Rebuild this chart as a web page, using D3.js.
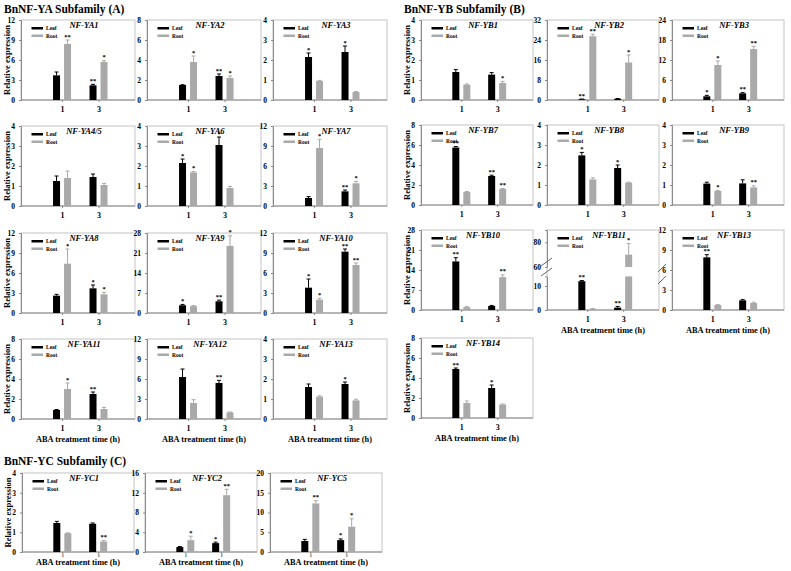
<!DOCTYPE html>
<html><head><meta charset="utf-8">
<script src="https://cdn.jsdelivr.net/npm/d3@7"></script>
<style>body{margin:0;background:#fff}svg{display:block}text{font-family:"Liberation Serif","Times New Roman",serif}</style>
</head><body>
<script>
// ---------------- DATA ----------------
const timePoints = [1, 3];
const genes = ["NF-YA1","NF-YA2","NF-YA3","NF-YA4/5","NF-YA6","NF-YA7","NF-YA8","NF-YA9","NF-YA10","NF-YA11","NF-YA12","NF-YA13",
  "NF-YB1","NF-YB2","NF-YB3","NF-YB7","NF-YB8","NF-YB9","NF-YB10","NF-YB11","NF-YB13","NF-YB14",
  "NF-YC1","NF-YC2","NF-YC5"];
const leafMean = [[3.7,2.2],[1.5,2.4],[2.15,2.4],[1.25,1.45],[2.15,3.05],[1.2,2.2],[2.6,3.7],[2.7,4.1],[3.8,9.2],[0.9,2.5],[6.3,5.4],[1.6,1.75],
  [1.4,1.27],[0.3,0.5],[1.1,2.0],[5.75,2.9],[2.48,1.85],[1.07,1.08],[17,1.4],[12,1.0],[7.9,1.45],[4.9,3.0],
  [1.47,1.43],[1.0,1.8],[2.8,3.0]];
const leafErr = [[0.5,0.15],[0.03,0.2],[0.2,0.3],[0.25,0.15],[0.2,0.4],[0.2,0.2],[0.2,0.5],[0.3,0.4],[1.3,0.4],[0.05,0.2],[1.2,0.4],[0.15,0.1],
  [0.12,0.1],[0.1,0.1],[0.3,0.2],[0.1,0.08],[0.15,0.15],[0.07,0.18],[1.3,0.2],[0.3,0.5],[0.4,0.1],[0.1,0.3],
  [0.08,0.04],[0.1,0.2],[0.4,0.3]];
const rootMean = [[8.4,5.7],[3.8,2.2],[0.95,0.4],[1.4,1.05],[1.68,0.9],[8.7,3.4],[7.4,2.8],[2.4,23.5],[2.0,7.2],[3.0,1.0],[2.4,1.0],[1.12,0.93],
  [0.77,0.85],[25.5,15],[10.5,15.3],[1.3,1.6],[1.28,1.12],[0.7,0.88],[1.0,11.5],[0.5,70],[0.75,1.05],[1.5,1.35],
  [0.95,0.53],[2.4,11.5],[12.3,6.4]];
const rootErr = [[0.6,0.2],[0.6,0.2],[0.03,0.03],[0.35,0.08],[0.05,0.08],[1.3,0.3],[2.2,0.3],[0.2,3.5],[0.2,0.3],[0.6,0.15],[0.5,0.05],[0.04,0.06],
  [0.03,0.08],[0.8,3],[1.2,0.8],[0.05,0.05],[0.08,0.02],[0.03,0.08],[0.2,0.8],[0.1,9],[0.06,0.12],[0.2,0.05],
  [0.02,0.05],[0.8,1.2],[0.7,2]];
const leafSig = [["","**"],["","**"],["*","*"],["",""],["*","*"],["","**"],["","*"],["*","**"],["*","**"],["","**"],["","**"],["","*"],
  ["",""],["**",""],["*","**"],["**","**"],["*","*"],["",""],["**",""],["**","**"],["**",""],["**","*"],
  ["",""],["","*"],["","*"]];
const rootSig = [["**","*"],["*","*"],["",""],["",""],["*",""],["*","*"],["*","*"],["","*"],["*","**"],["*",""],["",""],["",""],
  ["","*"],["**","*"],["*","**"],["","**"],["",""],["*","**"],["","**"],["","*"],["",""],["",""],
  ["","**"],["*","**"],["**","*"]];
const yMax  = [12,8,4,4,4,12,12,28,12,8,12,4, 4,32,24,8,4,4,28,90,12,8, 4,16,20];
const yStep = [3,2,1,1,1,3,3,7,3,2,3,1, 1,8,6,2,1,1,7,0,3,2, 1,4,5];
const brokenGene = "NF-YB11";
const brokenLower = [0, 14], brokenUpper = [60, 90];
const brokenTicksLower = [0, 10], brokenTicksUpper = [60, 80];
const breakMarkGene = "NF-YB13";
const seriesNames = ["Leaf", "Root"];
const sectionTitles = ["BnNF-YA Subfamily (A)", "BnNF-YB Subfamily (B)", "BnNF-YC Subfamily (C)"];
const yLabel = "Relative expression";
const xLabel = "ABA treatment time (h)";
const xLabelGenes = ["NF-YA11","NF-YA12","NF-YA13","NF-YB11","NF-YB13","NF-YB14","NF-YC1","NF-YC2","NF-YC5"];

// ---------------- LAYOUT ----------------
const W = 791, H = 571;
const colors = {leaf: "#000000", root: "#a9a9a9"};
const sections = [
  {genes: genes.slice(0,12), colX: [21,147,273], w: 114, rowTop: [20,126,233,339], h: 80, tickFs: 8},
  {genes: genes.slice(12,22), colX: [421,547,672], w: 112, rowTop: [20,125,230,338], h: 80, tickFs: 8},
  {genes: genes.slice(22,25), colX: [22,145,270], w: 112, rowTop: [473], h: 79, tickFs: 3.5}
];
const titlePos = [[4,13],[404,13],[4,465]];

const svg = d3.select("body").append("svg").attr("width", W).attr("height", H);

sectionTitles.forEach((t,i) => {
  svg.append("text").attr("x", titlePos[i][0]).attr("y", titlePos[i][1])
    .attr("font-size", 11.5).attr("font-weight", "bold").text(t);
});

sections.forEach(sec => {
  sec.genes.forEach((g, k) => {
    const row = Math.floor(k/3), col = k%3;
    drawPanel(genes.indexOf(g), sec.colX[col], sec.rowTop[row], sec.w, sec.h, col === 0, sec.tickFs);
  });
});

function drawPanel(gi, x0, top, w, h, showY, tickFs) {
  const g = svg.append("g").attr("transform", `translate(${x0},${top})`);
  const name = genes[gi];
  const broken = name === brokenGene;
  const x = d3.scaleLinear().domain([-1.25, 5]).range([0, w]);
  let y, yLow, yUp, yPos;
  if (broken) {
    yLow = d3.scaleLinear().domain(brokenLower).range([h, h - 33.6]);
    yUp = d3.scaleLinear().domain(brokenUpper).range([h - 43, 0]);
    yPos = v => v <= brokenLower[1] ? yLow(v) : yUp(v);
  } else {
    y = d3.scaleLinear().domain([0, yMax[gi]]).range([h, 0]);
    yPos = y;
  }
  g.append("rect").attr("x", 0).attr("y", 0).attr("width", w).attr("height", h)
    .attr("fill", "none").attr("stroke", "#c4c4c4").attr("stroke-width", 1);
  const styleAxis = sel => {
    sel.selectAll("path").attr("stroke", "#8a8a8a");
    sel.selectAll("line").attr("stroke", "#8a8a8a");
    sel.selectAll("text").attr("font-size", 7.5).attr("font-weight", "bold")
      .attr("font-family", "Liberation Serif, serif").attr("fill", "#000");
  };
  const fmt = d3.format("d");
  if (broken) {
    const aL = g.append("g").call(d3.axisLeft(yLow).tickValues(brokenTicksLower).tickFormat(fmt).tickSize(2).tickPadding(4));
    const aU = g.append("g").call(d3.axisLeft(yUp).tickValues(brokenTicksUpper).tickFormat(fmt).tickSize(2).tickPadding(4));
    styleAxis(aL); styleAxis(aU);
    [h - 38, h - 48].forEach(yy => {
      g.append("line").attr("x1", -6).attr("y1", yy + 4).attr("x2", 5).attr("y2", yy - 4)
        .attr("stroke", "#666").attr("stroke-width", 1);
    });
  } else {
    const ax = g.append("g").call(d3.axisLeft(y).tickValues(d3.range(0, yMax[gi] + 0.001, yStep[gi])).tickFormat(fmt).tickSize(2).tickPadding(4));
    styleAxis(ax);
  }
  if (name === breakMarkGene) {
    [h - 42, h - 30].forEach(yy => {
      g.append("line").attr("x1", -14).attr("y1", yy + 4).attr("x2", -6).attr("y2", yy - 4)
        .attr("stroke", "#666").attr("stroke-width", 1);
    });
  }
  const xa = g.append("g").attr("transform", `translate(0,${h})`)
    .call(d3.axisBottom(x).tickValues(timePoints).tickFormat(fmt).tickSize(2).tickPadding(tickFs > 5 ? 4 : 0.5));
  styleAxis(xa);
  xa.select(".domain").attr("d", `M0,0H${w}`);
  xa.selectAll("text").attr("font-size", tickFs);

  const bw = 7, off = 5.5;
  const series = [
    {mean: leafMean[gi], err: leafErr[gi], sig: leafSig[gi], color: colors.leaf, dx: -off},
    {mean: rootMean[gi], err: rootErr[gi], sig: rootSig[gi], color: colors.root, dx: off}
  ];
  series.forEach(s => {
    timePoints.forEach((t, j) => {
      const cx = x(t) + s.dx;
      const v = s.mean[j];
      if (broken && v > brokenLower[1]) {
        g.append("rect").attr("x", cx - bw/2).attr("y", yLow(brokenLower[1])).attr("width", bw)
          .attr("height", h - yLow(brokenLower[1])).attr("fill", s.color);
        g.append("rect").attr("x", cx - bw/2).attr("y", yUp(v)).attr("width", bw)
          .attr("height", yUp(brokenUpper[0]) - yUp(v)).attr("fill", s.color);
      } else {
        g.append("rect").attr("x", cx - bw/2).attr("y", yPos(v)).attr("width", bw)
          .attr("height", h - yPos(v)).attr("fill", s.color);
      }
      const et = yPos(v + s.err[j]);
      g.append("line").attr("x1", cx).attr("x2", cx).attr("y1", yPos(v)).attr("y2", et)
        .attr("stroke", s.color).attr("stroke-width", 1);
      g.append("line").attr("x1", cx - 2).attr("x2", cx + 2).attr("y1", et).attr("y2", et)
        .attr("stroke", s.color).attr("stroke-width", 1);
      if (s.sig[j]) {
        g.append("text").attr("x", cx).attr("y", et - 1.5).attr("text-anchor", "middle")
          .attr("font-size", 6.5).attr("font-weight", "bold").text(s.sig[j]);
      }
    });
  });

  seriesNames.forEach((n, k) => {
    const ly = 8 + k * 7.5;
    g.append("rect").attr("x", 10.5).attr("y", ly - 1).attr("width", 11.5).attr("height", 2.5)
      .attr("fill", k === 0 ? colors.leaf : colors.root);
    g.append("text").attr("x", 25).attr("y", ly + 2).attr("font-size", 5.5).attr("font-weight", "bold").text(n);
  });
  g.append("text").attr("x", w/2 + 6).attr("y", 8).attr("text-anchor", "middle")
    .attr("font-size", 8.5).attr("font-weight", "bold").attr("font-style", "italic").text(name);

  if (showY) {
    g.append("text").attr("transform", `translate(${-11},${h/2}) rotate(-90)`)
      .attr("text-anchor", "middle").attr("font-size", 8.5).attr("font-weight", "bold").text(yLabel);
  }
  if (xLabelGenes.includes(name)) {
    g.append("text").attr("x", w/2).attr("y", h + (tickFs > 5 ? 23 : 13)).attr("text-anchor", "middle")
      .attr("font-size", 8.3).attr("font-weight", "bold").text(xLabel);
  }
}
</script>
</body></html>
